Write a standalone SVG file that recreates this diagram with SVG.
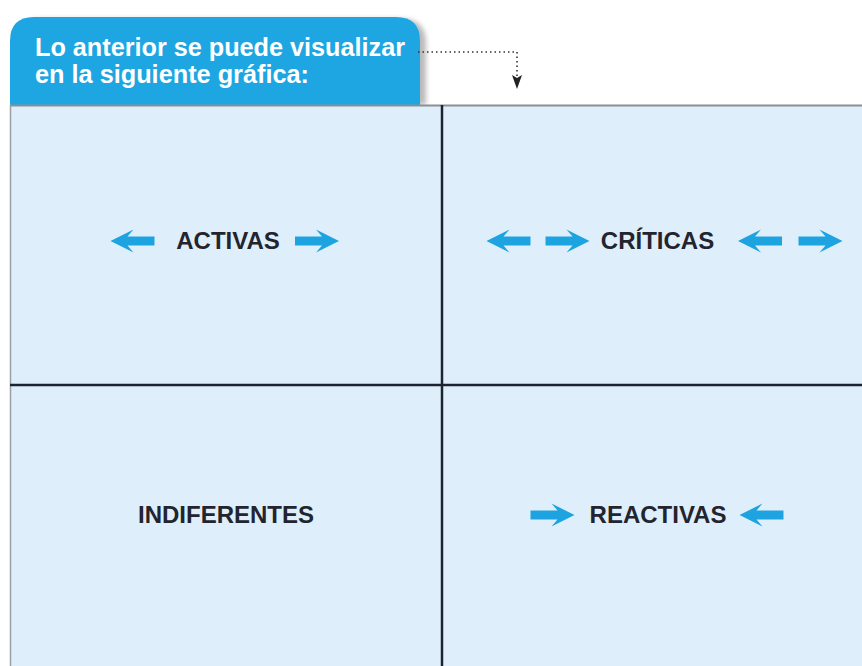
<svg xmlns="http://www.w3.org/2000/svg" width="862" height="666" viewBox="0 0 862 666">
<style>
.lbl{font-family:"Liberation Sans",Arial,sans-serif;font-weight:bold;font-size:24px;fill:#23242e;}
.tab{font-family:"Liberation Sans",Arial,sans-serif;font-weight:bold;font-size:25px;fill:#ffffff;}
.cell{fill:#deeffb;}
.grid{stroke:#1c2430;stroke-width:2.5;fill:none;}
.arr{fill:#1ea3e1;}
.dot{stroke:#333;stroke-width:1.6;stroke-dasharray:1.5 3;fill:none;}
</style>
<defs>
<path id="ar" class="arr" d="M-22,-4.5 L5,-4.5 L-1,-11.5 L22,0 L-1,11.5 L5,4.5 L-22,4.5 Z"/>
<marker id="mk" viewBox="0 0 14 10" refX="13" refY="5" markerWidth="14" markerHeight="10" markerUnits="userSpaceOnUse" orient="auto">
<path d="M0,0 L14,5 L0,10 L3,5 Z" fill="#222"/>
</marker>
<filter id="sh" x="-10%" y="-10%" width="120%" height="130%"><feGaussianBlur stdDeviation="2.5"/></filter>
</defs>
<rect width="862" height="666" fill="#ffffff"/>
<g id="header">
<path d="M16,105 L16,43 Q16,19 40,19 L402,19 Q426,19 426,43 L426,105 Z" fill="#8c8c8c" opacity="0.6" filter="url(#sh)"/>
<path d="M10,105 L10,41 Q10,17 34,17 L396,17 Q420,17 420,41 L420,105 Z" fill="#1ea6e2"/>
<text class="tab" x="35" y="56" textLength="370" lengthAdjust="spacingAndGlyphs">Lo anterior se puede visualizar</text>
<text class="tab" x="35" y="83" textLength="274" lengthAdjust="spacingAndGlyphs">en la siguiente gráfica:</text>
</g>
<g id="panel">
<rect class="cell" x="10" y="105" width="852" height="561"/>
<line x1="10" y1="105.5" x2="862" y2="105.5" stroke="#8a8f96" stroke-width="2"/>
<line x1="10.5" y1="105" x2="10.5" y2="666" stroke="#9aa0a6" stroke-width="1.5"/>
<line class="grid" x1="442" y1="105" x2="442" y2="666"/>
<line class="grid" x1="10" y1="385" x2="862" y2="385" stroke-width="2"/>
</g>
<g id="activas">
<use href="#ar" transform="translate(132.5,241) scale(-1,1)"/>
<text class="lbl" x="228" y="249" text-anchor="middle">ACTIVAS</text>
<use href="#ar" transform="translate(317,241)"/>
</g>
<g id="criticas">
<use href="#ar" transform="translate(508.5,241) scale(-1,1)"/>
<use href="#ar" transform="translate(567.5,241)"/>
<text class="lbl" x="657.5" y="249" text-anchor="middle">CRÍTICAS</text>
<use href="#ar" transform="translate(760,241) scale(-1,1)"/>
<use href="#ar" transform="translate(820.5,241)"/>
</g>
<g id="indiferentes">
<text class="lbl" x="226" y="523" text-anchor="middle">INDIFERENTES</text>
</g>
<g id="reactivas">
<use href="#ar" transform="translate(552.5,515)"/>
<text class="lbl" x="658" y="523" text-anchor="middle">REACTIVAS</text>
<use href="#ar" transform="translate(761.5,515) scale(-1,1)"/>
</g>
<g id="connectors">
<path class="dot" d="M418,52 H517 V88" marker-end="url(#mk)"/>
</g>
</svg>
